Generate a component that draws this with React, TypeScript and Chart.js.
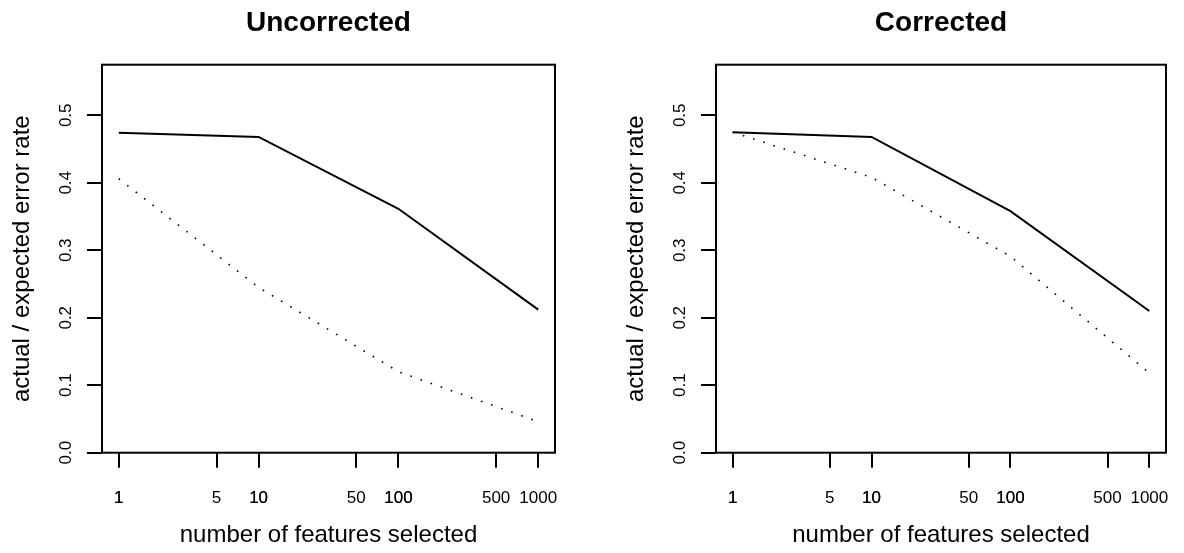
import React, { useEffect, useRef } from "react";
import { Chart, registerables } from "chart.js";

Chart.register(...registerables);

// ---- data ----
const features = [1, 10, 100, 1000];
const uncorrectedActual = [0.474, 0.468, 0.3615, 0.212];
const uncorrectedExpected = [0.406, 0.245, 0.12, 0.046];
const correctedActual = [0.475, 0.468, 0.358, 0.21];
const correctedExpected = [0.475, 0.408, 0.291, 0.118];

const xTickValues = [1, 5, 10, 50, 100, 500, 1000];
const xTickLabels = ["1", "5", "10", "50", "100", "500", "1000"];
const overplottedXTicks = [1, 10, 100];
const yTickValues = [0, 0.1, 0.2, 0.3, 0.4, 0.5];
const yTickLabels = ["0.0", "0.1", "0.2", "0.3", "0.4", "0.5"];

const panelTitles = ["Uncorrected", "Corrected"];
const xAxisTitle = "number of features selected";
const yAxisTitle = "actual / expected error rate";

const FONT = '"Liberation Sans", Arial, Helvetica, sans-serif';

const rAxesPlugin = {
  id: "rAxes",
  afterDatasetsDraw(chart: any) {
    const { ctx, chartArea: a } = chart;
    ctx.save();
    ctx.strokeStyle = "#000";
    ctx.lineWidth = 2;
    ctx.strokeRect(a.left, a.top, a.right - a.left, a.bottom - a.top);
    ctx.restore();
  },
  afterDraw(chart: any) {
    const { ctx, chartArea: a, scales } = chart;
    const xs = scales.x;
    const ys = scales.y;
    ctx.save();
    ctx.fillStyle = "#000";
    ctx.font = `17px ${FONT}`;
    ctx.textAlign = "center";
    ctx.textBaseline = "alphabetic";
    xTickValues.forEach((v, i) => {
      const px = xs.getPixelForValue(v);
      const times = overplottedXTicks.includes(v) ? 2 : 1;
      for (let k = 0; k < times; k++) ctx.fillText(xTickLabels[i], px, a.bottom + 50.5);
    });
    yTickValues.forEach((v, i) => {
      const py = ys.getPixelForValue(v);
      ctx.save();
      ctx.translate(a.left - 31, py);
      ctx.rotate(-Math.PI / 2);
      ctx.fillText(yTickLabels[i], 0, 0);
      ctx.restore();
    });
    ctx.restore();
  },
};

function Panel(props: {
  title: string;
  actual: number[];
  expected: number[];
  left: number;
  width: number;
  padRight: number;
}) {
  const ref = useRef<HTMLCanvasElement | null>(null);
  useEffect(() => {
    if (!ref.current) return;
    const chart = new Chart(ref.current, {
      type: "line",
      data: {
        datasets: [
          {
            label: "actual",
            data: features.map((f, i) => ({ x: f, y: props.actual[i] })),
            borderColor: "#000",
            borderWidth: 2,
            pointRadius: 0,
            tension: 0,
            fill: false,
          },
          {
            label: "expected",
            data: features.map((f, i) => ({ x: f, y: props.expected[i] })),
            borderColor: "#000",
            borderWidth: 1.6,
            borderDash: [1.6, 9.1],
            borderCapStyle: "butt",
            pointRadius: 0,
            tension: 0,
            fill: false,
          },
        ],
      },
      options: {
        responsive: false,
        animation: false,
        devicePixelRatio: 1,
        layout: { padding: { left: 0, top: 0, right: props.padRight, bottom: 0 } },
        plugins: {
          legend: { display: false },
          tooltip: { enabled: false },
          title: {
            display: true,
            text: props.title,
            color: "#000",
            fullSize: false,
            font: { family: FONT, size: 28, weight: "bold" },
            padding: { top: 6.3, bottom: 24.8 },
          },
        },
        scales: {
          x: {
            type: "logarithmic",
            position: "bottom",
            bounds: "data",
            min: Math.pow(10, -0.12),
            max: Math.pow(10, 3.12),
            afterBuildTicks: (s: any) => {
              s.ticks = xTickValues.map((v) => ({ value: v }));
            },
            afterFit: (s: any) => {
              s.height = 100.3;
            },
            ticks: { display: false },
            grid: {
              drawOnChartArea: false,
              drawTicks: true,
              tickLength: 15,
              color: "#000",
              lineWidth: 2,
            },
            border: { display: false },
            title: {
              display: true,
              text: xAxisTitle,
              color: "#000",
              font: { family: FONT, size: 24 },
              padding: { top: 0, bottom: 3.2 },
            },
          },
          y: {
            type: "linear",
            position: "left",
            bounds: "data",
            min: 0,
            max: 0.575,
            afterBuildTicks: (s: any) => {
              s.ticks = yTickValues.map((v) => ({ value: v }));
            },
            afterFit: (s: any) => {
              s.width = 102;
            },
            ticks: { display: false },
            grid: {
              drawOnChartArea: false,
              drawTicks: true,
              tickLength: 15,
              color: "#000",
              lineWidth: 2,
            },
            border: { display: false },
            title: {
              display: true,
              text: yAxisTitle,
              color: "#000",
              font: { family: FONT, size: 24 },
              padding: { top: 8.1, bottom: 0 },
            },
          },
        },
      } as any,
      plugins: [rAxesPlugin],
    });
    return () => chart.destroy();
  }, []);
  return (
    <canvas
      ref={ref}
      width={props.width}
      height={553}
      style={{ position: "absolute", left: props.left, top: 0, display: "block" }}
    />
  );
}

export default function App() {
  useEffect(() => {
    document.body.style.margin = "0";
  }, []);
  return (
    <div style={{ position: "relative", width: 1184, height: 553, background: "#fff", overflow: "hidden" }}>
      <Panel
        title={panelTitles[0]}
        actual={uncorrectedActual}
        expected={uncorrectedExpected}
        left={0}
        width={592}
        padRight={37}
      />
      <Panel
        title={panelTitles[1]}
        actual={correctedActual}
        expected={correctedExpected}
        left={614}
        width={570}
        padRight={18}
      />
    </div>
  );
}
